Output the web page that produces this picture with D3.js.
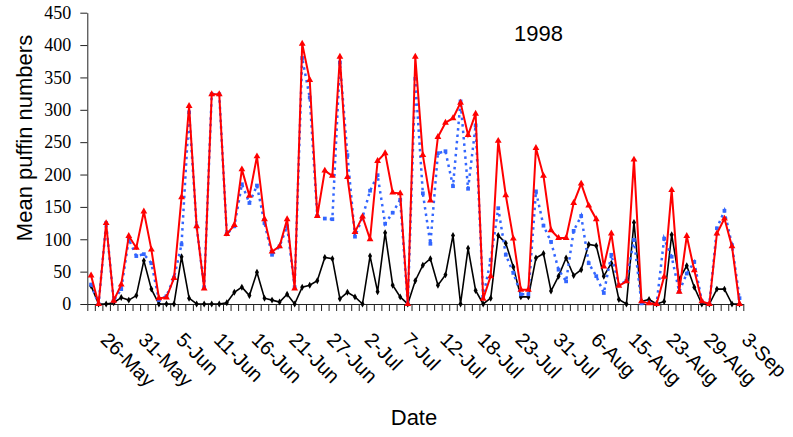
<!DOCTYPE html>
<html>
<head>
<meta charset="utf-8">
<script src="https://cdn.jsdelivr.net/npm/d3@7"></script>
<style>
  body { margin: 0; background: #fff; }
  .y.axis text { font-family: "Liberation Serif", "Times New Roman", serif; font-size: 18px; fill: #000; }
  .x.axis text { font-family: "Liberation Sans", Arial, sans-serif; font-size: 20px; fill: #000; }
  .axis path, .axis line { stroke: #222; }
  .title { font-family: "Liberation Sans", Arial, sans-serif; font-size: 22px; }
</style>
</head>
<body>
<svg id="chart" width="793" height="437"></svg>
<script>
// sampling dates (only every fifth one is labelled on the axis)
var dates = [
  "25-May","26-May","27-May","28-May","29-May","30-May","31-May","1-Jun","2-Jun","3-Jun",
  "4-Jun","5-Jun","6-Jun","7-Jun","8-Jun","10-Jun","11-Jun","12-Jun","13-Jun","14-Jun",
  "15-Jun","16-Jun","17-Jun","18-Jun","19-Jun","20-Jun","21-Jun","22-Jun","23-Jun","24-Jun",
  "26-Jun","27-Jun","28-Jun","29-Jun","30-Jun","1-Jul","2-Jul","3-Jul","4-Jul","5-Jul",
  "6-Jul","7-Jul","8-Jul","9-Jul","10-Jul","11-Jul","12-Jul","13-Jul","14-Jul","15-Jul",
  "17-Jul","18-Jul","19-Jul","20-Jul","21-Jul","22-Jul","23-Jul","24-Jul","25-Jul","27-Jul",
  "29-Jul","31-Jul","1-Aug","2-Aug","3-Aug","5-Aug","6-Aug","7-Aug","9-Aug","11-Aug",
  "13-Aug","15-Aug","16-Aug","18-Aug","20-Aug","22-Aug","23-Aug","24-Aug","25-Aug","26-Aug",
  "28-Aug","29-Aug","30-Aug","31-Aug","1-Sep","2-Sep","3-Sep"
];

var tickDates = ["26-May","31-May","5-Jun","11-Jun","16-Jun","21-Jun","27-Jun","2-Jul","7-Jul",
  "12-Jul","18-Jul","23-Jul","31-Jul","6-Aug","15-Aug","23-Aug","29-Aug","3-Sep"];

var yTicks = [0, 50, 100, 150, 200, 250, 300, 350, 400, 450];

var redValues = [
  44, 0, 125, 5, 30, 105, 87, 143, 84, 9,
  10, 40, 165, 306, 120, 24, 324, 324, 108, 122,
  208, 167, 228, 131, 81, 89, 131, 24, 402, 346,
  136, 206, 198, 382, 196, 111, 135, 100, 221, 233,
  172, 171, 0, 382, 230, 160, 258, 280, 287, 311,
  261, 294, 8, 43, 252, 168, 101, 22, 22, 241,
  198, 114, 102, 102, 156, 186, 152, 131, 58, 109,
  28, 35, 223, 4, 1, 0, 42, 176, 19, 105,
  52, 4, 0, 109, 132, 89, 0
];

var blueValues = [
  30, 0, 125, 5, 23, 100, 74, 77, 63, 6,
  12, 41, 92, 296, 120, 26, 324, 324, 108, 120,
  185, 156, 183, 125, 76, 89, 120, 26, 380, 319,
  136, 132, 131, 373, 230, 104, 134, 175, 199, 124,
  141, 161, 0, 348, 171, 93, 233, 236, 182, 313,
  178, 276, 11, 68, 148, 76, 48, 15, 15, 174,
  121, 96, 53, 35, 113, 136, 63, 43, 17, 76,
  29, 36, 99, 1, 2, 0, 101, 73, 19, 47,
  65, 4, 0, 117, 144, 91, 9
];

var blackValues = [
  28, 0, 0, 2, 10, 6, 13, 67, 23, 0,
  0, 0, 73, 9, 0, 0, 0, 0, 2, 18,
  26, 13, 49, 9, 6, 3, 15, 0, 26, 29,
  36, 72, 70, 8, 18, 11, 0, 74, 19, 110,
  29, 11, 0, 36, 60, 70, 29, 45, 106, 0,
  86, 21, 0, 9, 106, 94, 57, 11, 11, 71,
  78, 20, 43, 71, 44, 53, 92, 90, 43, 63,
  7, 0, 126, 4, 7, 0, 4, 107, 38, 59,
  26, 0, 0, 23, 23, 0, 0
];

(function() {
  var plotLeft = 87.3, plotRight = 743.3, plotTop = 12.7, plotBottom = 304;

  var svg = d3.select("#chart");

  var x = d3.scaleBand().domain(dates).range([plotLeft, plotRight]).padding(0);
  var xEdge = d3.scaleLinear().domain([0, dates.length]).range([plotLeft, plotRight]);
  var y = d3.scaleLinear().domain([0, 450]).range([plotBottom, plotTop]);

  function cx(d, i) { return x(dates[i]) + x.bandwidth() / 2; }

  // y axis
  svg.append("g")
    .attr("class", "y axis")
    .attr("transform", "translate(" + plotLeft + ",0)")
    .call(d3.axisLeft(y).tickValues(yTicks).tickSize(7).tickPadding(9).tickSizeOuter(0));

  // x axis: tick marks between categories
  svg.append("g")
    .attr("class", "x axis")
    .attr("transform", "translate(0," + plotBottom + ")")
    .call(d3.axisBottom(xEdge).tickValues(d3.range(dates.length + 1)).tickFormat("").tickSize(7).tickSizeOuter(0));

  // x axis labels
  svg.append("g")
    .attr("class", "x axis labels")
    .attr("transform", "translate(0," + plotBottom + ")")
    .call(d3.axisBottom(x).tickValues(tickDates).tickSize(0))
    .call(function(g) { g.select(".domain").remove(); })
    .selectAll("text")
    .attr("x", 0)
    .attr("y", 0)
    .attr("dy", 0)
    .style("text-anchor", "start")
    .attr("transform", "translate(1,37) rotate(45)");

  var line = d3.line().x(cx).y(function(d) { return y(d); });

  function drawSeries(values, color, dash, width, symbol, size) {
    svg.append("path")
      .datum(values)
      .attr("fill", "none")
      .attr("stroke", color)
      .attr("stroke-width", width)
      .attr("stroke-dasharray", dash)
      .attr("d", line);

    svg.append("g").selectAll("path")
      .data(values)
      .enter().append("path")
      .attr("transform", function(d, i) { return "translate(" + cx(d, i) + "," + y(d) + ")"; })
      .attr("d", d3.symbol().type(symbol).size(size))
      .attr("fill", color);
  }

  drawSeries(blackValues, "#000", null, 1.6, d3.symbolDiamond, 14);
  drawSeries(blueValues, "#3366ff", "2.5,4", 2.5, d3.symbolSquare, 14);
  drawSeries(redValues, "#ff0000", null, 2, d3.symbolTriangle, 20);

  svg.append("text")
    .attr("class", "title")
    .attr("x", 514)
    .attr("y", 41)
    .text("1998");

  svg.append("text")
    .attr("class", "title")
    .attr("x", 414)
    .attr("y", 425)
    .attr("text-anchor", "middle")
    .text("Date");

  svg.append("text")
    .attr("class", "title")
    .attr("transform", "translate(32,138) rotate(-90)")
    .attr("text-anchor", "middle")
    .text("Mean puffin numbers");
})();
</script>
</body>
</html>
